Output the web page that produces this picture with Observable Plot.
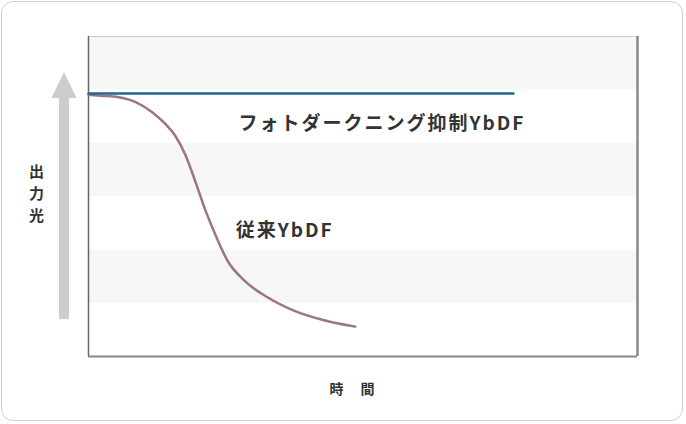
<!DOCTYPE html>
<html>
<head>
<meta charset="utf-8">
<script src="https://cdn.jsdelivr.net/npm/d3@7"></script>
<script src="https://cdn.jsdelivr.net/npm/@observablehq/plot@0.6"></script>
<style>
  html, body { margin: 0; padding: 0; background: #fff; }
  #wrap { position: relative; width: 686px; height: 424px; }
  #box { position: absolute; left: 1px; top: 1px; width: 682px; height: 420px;
         border: 1px solid #cfcfcf; border-radius: 12px; box-sizing: border-box; }
  #chart { position: absolute; left: 0; top: 0; }
  .xlab text { letter-spacing: 17px; }
  .serieslab text { letter-spacing: 2px; }
</style>
</head>
<body>
<div id="wrap"><div id="box"></div><div id="chart"></div></div>
<script>
// Time axis (0–100, arbitrary units) and output light (band units, 0–6)
const bands = [0, 1, 2, 3, 4, 5];

const conventionalTime   = [0, 2.2, 5.5, 8.6, 11.6, 14.0, 15.8, 17.7, 19.5, 21.3, 22.8, 25.3, 28.3, 32.6, 37.4, 42.9, 48.6];
const conventionalOutput = [4.91, 4.89, 4.86, 4.77, 4.58, 4.36, 4.14, 3.77, 3.27, 2.74, 2.36, 1.80, 1.43, 1.11, 0.86, 0.68, 0.56];

const suppressedTime   = [0, 77.4];
const suppressedOutput = [4.93, 4.93];

const seriesLabels = ["フォトダークニング抑制YbDF", "従来YbDF"];
const labelX = [27.3, 26.8];
const labelY = [4.37, 2.36];

const yAxisChars = ["出", "力", "光"];
const yAxisCharX = [-9.47, -9.47, -9.47];
const yAxisCharY = [3.45, 3.05, 2.64];
const xAxisLabel = "時間";

const conventional = conventionalTime.map((t, i) => ({t, v: conventionalOutput[i]}));
const suppressed = suppressedTime.map((t, i) => ({t, v: suppressedOutput[i]}));
const labels = seriesLabels.map((s, i) => ({s, x: labelX[i], y: labelY[i]}));
const yChars = yAxisChars.map((c, i) => ({c, x: yAxisCharX[i], y: yAxisCharY[i]}));

const font = "'Noto Sans CJK JP', 'Noto Sans', sans-serif";

const arrowMark = (index, scales, values, dims) => {
  const g = d3.create("svg:g");
  g.append("rect").attr("x", 59).attr("y", 97).attr("width", 10).attr("height", 222).attr("fill", "#cccccc");
  g.append("polygon").attr("points", "51.5,98 76.5,98 64,72").attr("fill", "#cccccc");
  return g.node();
};

const chart = Plot.plot({
  width: 686,
  height: 424,
  marginLeft: 88,
  marginRight: 49,
  marginTop: 36,
  marginBottom: 68,
  style: {fontFamily: font, background: "transparent"},
  x: {domain: [0, 100], axis: null},
  y: {domain: [0, 6], axis: null},
  marks: [
    Plot.rect(bands, {x1: 0, x2: 100, y1: d => d, y2: d => d + 1, fill: d => d % 2 ? "#f7f7f7" : "#ffffff"}),
    Plot.ruleY([6], {stroke: "#cccccc", strokeWidth: 1}),
    Plot.ruleY([0], {stroke: "#888888", strokeWidth: 2}),
    Plot.ruleX([100], {stroke: "#888888", strokeWidth: 2.5}),
    Plot.ruleX([0], {stroke: "#666666", strokeWidth: 1.5}),
    Plot.line(conventional, {x: "t", y: "v", stroke: "#9b7585", strokeWidth: 2.5, curve: "monotone-x"}),
    Plot.line(suppressed, {x: "t", y: "v", stroke: "#1f6791", strokeWidth: 2.5}),
    Plot.text(labels, {x: "x", y: "y", text: "s", textAnchor: "start", fontSize: 19, fontWeight: "bold", fill: "#333333", className: "serieslab"}),
    Plot.text(yChars, {x: "x", y: "y", text: "c", textAnchor: "middle", fontSize: 15, fontWeight: "bold", fill: "#333333"}),
    Plot.text([xAxisLabel], {frameAnchor: "bottom", lineAnchor: "middle", dx: -2.5, dy: 33, text: d => d, textAnchor: "middle", fontSize: 14, fontWeight: "bold", fill: "#333333", className: "xlab"}),
    arrowMark
  ]
});
document.getElementById("chart").appendChild(chart);
</script>
</body>
</html>
